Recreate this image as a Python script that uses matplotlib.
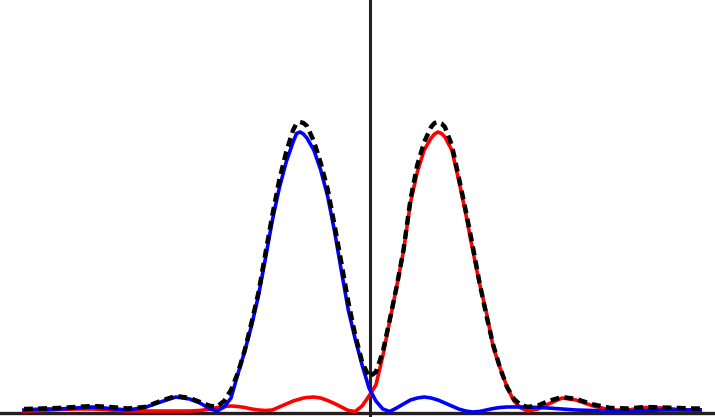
import numpy as np
import matplotlib
matplotlib.use("Agg")
import matplotlib.pyplot as plt

# position (arbitrary units), shared by all three curves
position = [-5.0, -4.75, -4.5, -4.25, -4.0, -3.75, -3.5, -3.25, -3.0, -2.8,
            -2.6, -2.45, -2.3, -2.2, -2.1, -2.0, -1.9, -1.8, -1.7, -1.6,
            -1.5, -1.4, -1.3, -1.2, -1.1, -1.05, -1.0, -0.95, -0.9, -0.8,
            -0.7, -0.6, -0.5, -0.4, -0.3, -0.2, -0.1, 0.0, 0.1, 0.2,
            0.3, 0.4, 0.5, 0.6, 0.7, 0.8, 0.9, 0.95, 1.0, 1.05,
            1.1, 1.2, 1.3, 1.4, 1.5, 1.6, 1.7, 1.8, 1.9, 2.0,
            2.1, 2.2, 2.3, 2.45, 2.6, 2.8, 3.0, 3.25, 3.5, 3.75,
            4.0, 4.25, 4.5, 4.7, 4.8]

# intensity (arbitrary units)
left_beam = [3, 4, 4, 5, 6, 4.5, 3, 5.5, 11.5, 16,
             14, 10, 4, 2, 6, 15, 39, 62, 88, 118,
             155, 193, 225, 251, 271, 279.5, 281, 279, 275, 263,
             243, 217, 182, 142, 103, 74, 48, 25, 12, 4,
             1.5, 5, 9, 13, 15, 16, 15, 14, 13, 11.5,
             10, 7, 4, 2, 1, 1.5, 3, 4.5, 5.5, 6,
             6, 6, 6, 5.5, 5, 4, 3, 2.5, 2, 2,
             2.5, 3, 3, 3, 3]

right_beam = [2, 2.5, 3.5, 4, 4, 3, 2, 2, 2, 2,
              2, 2.5, 4, 5.5, 6.5, 7, 6.5, 5.5, 4, 3,
              2.5, 3, 6, 9, 12, 13, 14, 15, 15.5, 16,
              15, 12.5, 9.5, 6, 2.5, 1.5, 7, 17, 28, 57,
              92, 126, 162, 210, 241, 263, 275, 279, 281, 279.5,
              276, 263, 233, 200, 164, 130, 101, 66, 45, 26,
              12, 5, 2, 4, 9, 15, 13, 7, 3, 3,
              5.5, 5, 3.5, 3, 3]

total = [4, 4.5, 5, 6, 7, 6, 4.5, 6, 12.5, 17,
         15, 11, 7, 6.5, 12, 23, 40, 63, 91, 121,
         160, 198, 233, 261, 283, 289.5, 291, 290, 287, 272,
         250, 224, 188, 150, 111, 78, 51, 36, 41, 61,
         93, 126, 163, 213, 248, 271, 286, 290, 291, 289.5,
         286, 268, 236, 203, 168, 131, 98, 68, 45, 26,
         14, 8, 6, 7.5, 12, 16, 14, 8.5, 5, 4.5,
         6, 5.5, 5, 4.5, 4.5]

fig = plt.figure(figsize=(7.15, 4.17), dpi=100)
ax = fig.add_axes([0, 0, 1, 1])

ax.axvline(0.015, color='#231f20', lw=2.2, zorder=1)
ax.axhline(0, color='#231f20', lw=2.4, zorder=1)

ax.plot(position, right_beam, color='#ff0000', lw=2.6, zorder=2)
ax.plot(position, left_beam, color='#0000ff', lw=2.6, zorder=3)
ax.plot(position, total, color='black', lw=3.2, ls=(0, (2.0, 1.2)),
        dash_capstyle='butt', zorder=4)

ax.set_xlim(-369 / 69, 346 / 69)
ax.set_ylim(-4, 413)
ax.axis('off')

fig.savefig('out.png', dpi=100, facecolor='white')
